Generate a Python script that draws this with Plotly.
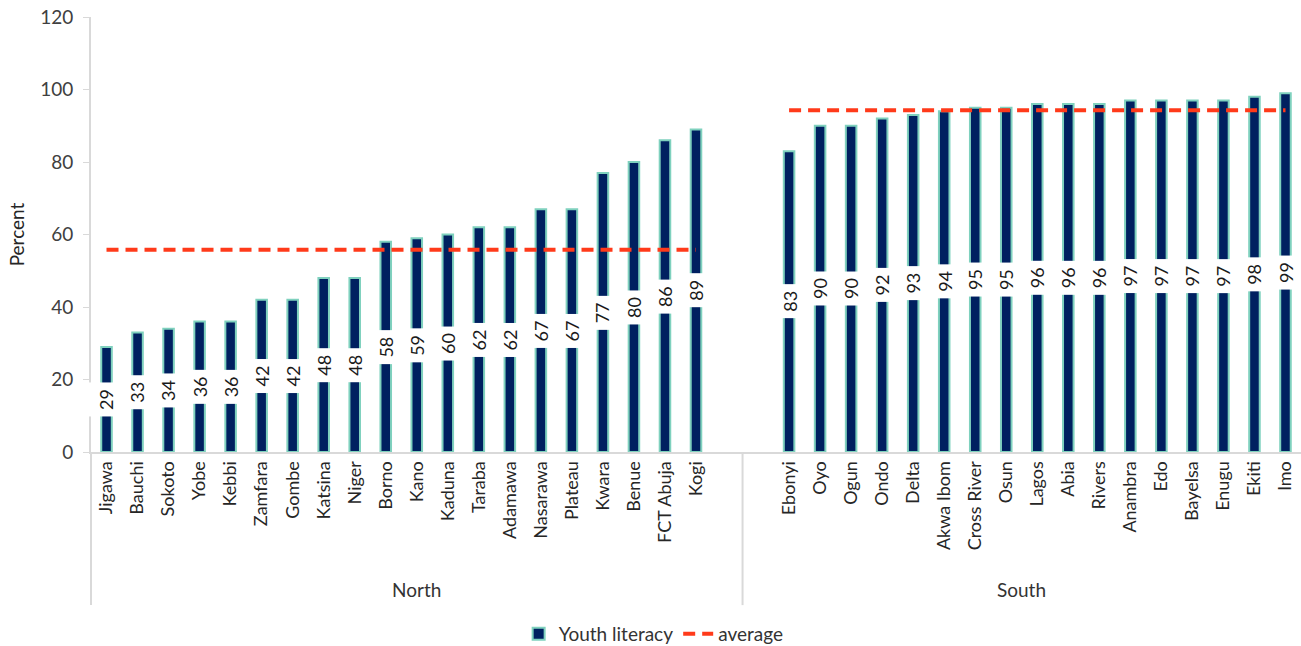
import plotly.graph_objects as go

# ---- data ----
north_states = ["Jigawa", "Bauchi", "Sokoto", "Yobe", "Kebbi", "Zamfara", "Gombe", "Katsina", "Niger",
                "Borno", "Kano", "Kaduna", "Taraba", "Adamawa", "Nasarawa", "Plateau", "Kwara", "Benue",
                "FCT Abuja", "Kogi"]
north_values = [29, 33, 34, 36, 36, 42, 42, 48, 48, 58, 59, 60, 62, 62, 67, 67, 77, 80, 86, 89]

south_states = ["Ebonyi", "Oyo", "Ogun", "Ondo", "Delta", "Akwa Ibom", "Cross River", "Osun", "Lagos",
                "Abia", "Rivers", "Anambra", "Edo", "Bayelsa", "Enugu", "Ekiti", "Imo"]
south_values = [83, 90, 90, 92, 93, 94, 95, 95, 96, 96, 96, 97, 97, 97, 97, 98, 99]

region_names = ["North", "South"]
region_avg = [55.8, 94.3]

y_ticks = [0, 20, 40, 60, 80, 100, 120]

# ---- layout helpers ----
north_pad = [" "]      # empty slot closing the North group
south_pad = ["  "]     # empty slot opening the South group
categories = north_states + north_pad + south_pad + south_states
values = north_values + [None] + [None] + south_values

FONT = "Lato"
NAVY = "#002060"
TEAL = "#7FD1BE"
RED = "#FF3A1A"
AXIS = "#D9D9D9"

fig = go.Figure()

fig.add_trace(go.Bar(
    x=categories, y=values, name="Youth literacy",
    marker=dict(color=NAVY, line=dict(color=TEAL, width=2)),
    width=0.34, hoverinfo="x+y",
))

fig.add_trace(go.Scatter(
    x=[north_states[0], north_states[-1]], y=[region_avg[0], region_avg[0]],
    mode="lines", name="average",
    line=dict(color=RED, width=4, dash="12px,7px"),
))
fig.add_trace(go.Scatter(
    x=[south_states[0], south_states[-1]], y=[region_avg[1], region_avg[1]],
    mode="lines", name="average", showlegend=False,
    line=dict(color=RED, width=4, dash="12px,7px"),
))

# data labels (rotated, white boxed, centred in bar)
annotations = []
for cat, v in zip(north_states + south_states, north_values + south_values):
    annotations.append(dict(
        x=cat, y=v / 2, xref="x", yref="y", text=str(v), showarrow=False,
        textangle=-90, bgcolor="white", borderpad=6,
        font=dict(family=FONT, size=18, color="#1a1a1a"),
    ))

n_total = len(categories)
n_north = len(north_states) + len(north_pad)
label_y = -0.317
annotations.append(dict(
    x=(n_north / 2) / n_total, y=label_y, xref="paper", yref="paper", text=region_names[0],
    xanchor="center", yanchor="middle",
    showarrow=False, font=dict(family=FONT, size=19, color="#333333"),
))
annotations.append(dict(
    x=((n_north + n_total) / 2) / n_total, y=label_y, xref="paper", yref="paper", text=region_names[1],
    xanchor="center", yanchor="middle",
    showarrow=False, font=dict(family=FONT, size=19, color="#333333"),
))

shapes = []
for xp in [0, n_north / n_total]:
    shapes.append(dict(type="line", xref="paper", yref="paper", x0=xp, x1=xp, y0=0, y1=-0.352,
                       line=dict(color=AXIS, width=2)))

fig.update_layout(
    width=1301, height=646,
    margin=dict(l=91, r=0, t=17, b=194, autoexpand=False),
    plot_bgcolor="white", paper_bgcolor="white",
    font=dict(family=FONT, size=18, color="#333333"),
    bargap=0.6,
    xaxis=dict(
        type="category", categoryorder="array", categoryarray=categories,
        range=[-0.5, n_total - 0.5], automargin=False,
        showline=True, linecolor=AXIS, linewidth=2, ticks="",
        tickangle=-90, tickfont=dict(family=FONT, size=18, color="#262626"),
        showgrid=False, zeroline=False,
    ),
    yaxis=dict(
        range=[0, 120], tickvals=y_ticks, showgrid=False, zeroline=False, automargin=False,
        showline=True, linecolor=AXIS, linewidth=2, ticks="outside", ticklen=6, tickcolor=AXIS,
        ticklabelstandoff=6,
        tickfont=dict(family=FONT, size=19, color="#404040"),
        title=dict(text="Percent", font=dict(family=FONT, size=19, color="#262626"), standoff=10),
    ),
    legend=dict(orientation="h", x=0.465, xanchor="center",
                yref="container", y=(646 - 634) / 646, yanchor="middle",
                font=dict(family=FONT, size=19, color="#333333"), traceorder="normal"),
    annotations=annotations,
    shapes=shapes,
    showlegend=True,
)

fig.write_html("out.html")
